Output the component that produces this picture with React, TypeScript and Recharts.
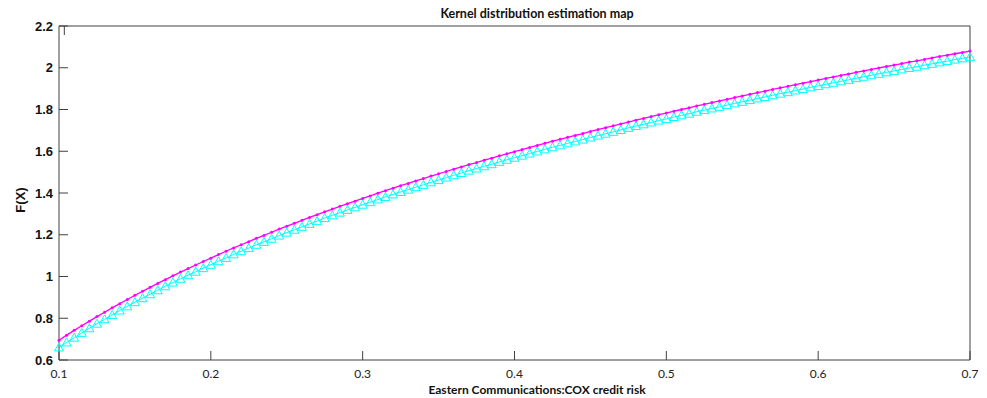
import { LineChart, Line, XAxis, YAxis } from "recharts";

// x grid of the kernel estimate (credit risk)
const xValues = [
  0.1, 0.105, 0.11, 0.115, 0.12, 0.125, 0.13, 0.135, 0.14, 0.145,
  0.15, 0.155, 0.16, 0.165, 0.17, 0.175, 0.18, 0.185, 0.19, 0.195,
  0.2, 0.205, 0.21, 0.215, 0.22, 0.225, 0.23, 0.235, 0.24, 0.245,
  0.25, 0.255, 0.26, 0.265, 0.27, 0.275, 0.28, 0.285, 0.29, 0.295,
  0.3, 0.305, 0.31, 0.315, 0.32, 0.325, 0.33, 0.335, 0.34, 0.345,
  0.35, 0.355, 0.36, 0.365, 0.37, 0.375, 0.38, 0.385, 0.39, 0.395,
  0.4, 0.405, 0.41, 0.415, 0.42, 0.425, 0.43, 0.435, 0.44, 0.445,
  0.45, 0.455, 0.46, 0.465, 0.47, 0.475, 0.48, 0.485, 0.49, 0.495,
  0.5, 0.505, 0.51, 0.515, 0.52, 0.525, 0.53, 0.535, 0.54, 0.545,
  0.55, 0.555, 0.56, 0.565, 0.57, 0.575, 0.58, 0.585, 0.59, 0.595,
  0.6, 0.605, 0.61, 0.615, 0.62, 0.625, 0.63, 0.635, 0.64, 0.645,
  0.65, 0.655, 0.66, 0.665, 0.67, 0.675, 0.68, 0.685, 0.69, 0.695,
  0.7,
];

// magenta curve (dots)
const kdeValues = [
  0.695, 0.719, 0.742, 0.764, 0.786, 0.808, 0.829, 0.85, 0.87, 0.89,
  0.91, 0.929, 0.948, 0.967, 0.985, 1.003, 1.021, 1.038, 1.055, 1.072,
  1.088, 1.105, 1.121, 1.137, 1.152, 1.167, 1.183, 1.197, 1.212, 1.227,
  1.241, 1.255, 1.269, 1.283, 1.296, 1.31, 1.323, 1.336, 1.349, 1.361,
  1.374, 1.386, 1.399, 1.411, 1.423, 1.435, 1.446, 1.458, 1.469, 1.481,
  1.492, 1.503, 1.514, 1.525, 1.536, 1.546, 1.557, 1.567, 1.578, 1.588,
  1.598, 1.608, 1.618, 1.628, 1.638, 1.648, 1.657, 1.667, 1.676, 1.685,
  1.695, 1.704, 1.713, 1.722, 1.731, 1.74, 1.749, 1.757, 1.766, 1.775,
  1.783, 1.792, 1.8, 1.808, 1.817, 1.825, 1.833, 1.841, 1.849, 1.857,
  1.865, 1.873, 1.881, 1.888, 1.896, 1.904, 1.911, 1.919, 1.926, 1.934,
  1.941, 1.949, 1.956, 1.963, 1.97, 1.978, 1.985, 1.992, 1.999, 2.006,
  2.013, 2.02, 2.027, 2.033, 2.04, 2.047, 2.054, 2.06, 2.067, 2.073,
  2.08,
];

// cyan curve (triangles)
const fitValues = [
  0.66, 0.684, 0.707, 0.73, 0.752, 0.774, 0.795, 0.816, 0.837, 0.857,
  0.877, 0.896, 0.915, 0.934, 0.953, 0.971, 0.989, 1.006, 1.023, 1.04,
  1.056, 1.073, 1.089, 1.106, 1.121, 1.136, 1.152, 1.166, 1.181, 1.196,
  1.21, 1.224, 1.238, 1.252, 1.265, 1.28, 1.293, 1.306, 1.319, 1.331,
  1.344, 1.356, 1.369, 1.381, 1.393, 1.405, 1.416, 1.428, 1.439, 1.451,
  1.462, 1.474, 1.485, 1.496, 1.507, 1.517, 1.528, 1.538, 1.549, 1.559,
  1.569, 1.579, 1.589, 1.599, 1.609, 1.619, 1.628, 1.638, 1.647, 1.656,
  1.666, 1.675, 1.684, 1.693, 1.702, 1.712, 1.721, 1.729, 1.738, 1.747,
  1.755, 1.764, 1.772, 1.78, 1.789, 1.797, 1.805, 1.813, 1.821, 1.829,
  1.837, 1.845, 1.853, 1.86, 1.868, 1.876, 1.883, 1.891, 1.898, 1.906,
  1.913, 1.921, 1.928, 1.935, 1.942, 1.95, 1.957, 1.964, 1.971, 1.978,
  1.985, 1.992, 1.999, 2.005, 2.012, 2.019, 2.026, 2.032, 2.039, 2.045,
  2.052,
];

const xTicks = [0.1, 0.2, 0.3, 0.4, 0.5, 0.6, 0.7];
const yTicks = [0.6, 0.8, 1, 1.2, 1.4, 1.6, 1.8, 2, 2.2];

const data = xValues.map((x, i) => ({ x, kde: kdeValues[i], fit: fitValues[i] }));

const frame = "#404040";
const blank = () => "";

const Triangle = (props: any) => {
  const { cx, cy, index } = props;
  if (cx == null || cy == null) return <g key={index} />;
  return (
    <polygon
      key={index}
      points={`${cx},${cy - 4.5} ${cx - 4.5},${cy + 3.5} ${cx + 4.5},${cy + 3.5}`}
      fill="none"
      stroke="#00ffff"
      strokeWidth={1}
    />
  );
};

export default function App() {
  return (
    <div style={{ position: "absolute", left: 0, top: 0, width: 987, height: 398, background: "#fff" }}>
      <div
        style={{
          position: "absolute",
          left: 537,
          top: 6,
          transform: "translateX(-50%)",
          whiteSpace: "nowrap",
          fontFamily: "Lato, sans-serif",
          fontWeight: 700,
          fontSize: 12.5,
          lineHeight: "16px",
          color: "#111",
        }}
      >
        Kernel distribution estimation map
      </div>
      <LineChart width={987} height={398} data={data} margin={{ top: 25, right: 16, bottom: 0, left: 0 }}>
        <XAxis
          dataKey="x"
          type="number"
          domain={[0.1, 0.7]}
          ticks={xTicks}
          height={38}
          tickSize={-9}
          tickMargin={18}
          stroke={frame}
          tick={{ fill: "#222", fontFamily: "Lato, sans-serif", fontSize: 12 }}
          label={{
            value: "Eastern Communications:COX credit risk",
            content: () => (
              <text x={537} y={394} textAnchor="middle" fontFamily="Lato, sans-serif" fontWeight={700} fontSize={12} fill="#111">
                Eastern Communications:COX credit risk
              </text>
            ),
          }}
        />
        <XAxis
          xAxisId="top"
          orientation="top"
          type="number"
          domain={[0.1, 0.7]}
          ticks={xTicks}
          height={1}
          tickSize={-9}
          tickFormatter={blank}
          stroke={frame}
        />
        <YAxis
          type="number"
          domain={[0.6, 2.2]}
          ticks={yTicks}
          width={59}
          tickSize={-9}
          tickMargin={15}
          stroke={frame}
          tick={{ fill: "#111", fontFamily: "Liberation Sans, Arial, sans-serif", fontWeight: 700, fontSize: 13 }}
          label={{
            value: "F(X)",
            content: () => (
              <text
                x={20}
                y={200}
                transform="rotate(-90 20 200)"
                textAnchor="middle"
                dominantBaseline="central"
                fontFamily="Liberation Sans, Arial, sans-serif"
                fontWeight={700}
                fontSize={13}
                fill="#111"
              >
                F(X)
              </text>
            ),
          }}
        />
        <YAxis
          yAxisId="right"
          orientation="right"
          type="number"
          domain={[0.6, 2.2]}
          ticks={yTicks}
          width={1}
          tickSize={-9}
          tickFormatter={blank}
          stroke={frame}
        />
        <Line
          dataKey="fit"
          type="linear"
          stroke="#00ffff"
          strokeWidth={1}
          dot={Triangle}
          activeDot={false}
          isAnimationActive={false}
        />
        <Line
          dataKey="kde"
          type="linear"
          stroke="#ff00ff"
          strokeWidth={1.3}
          dot={{ r: 1.5, fill: "#ff00ff", stroke: "none" }}
          activeDot={false}
          isAnimationActive={false}
        />
      </LineChart>
    </div>
  );
}
